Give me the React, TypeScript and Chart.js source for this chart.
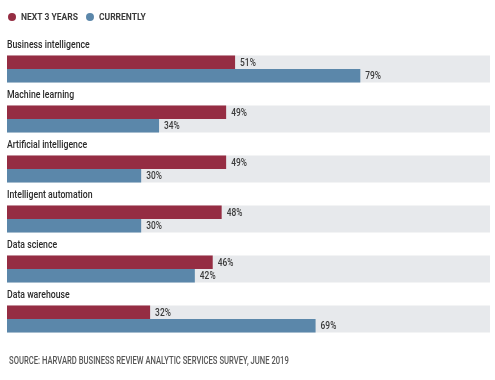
import { useEffect, useRef } from "react";
import { Chart, registerables } from "chart.js";

Chart.register(...registerables);

const categories = [
  "Business intelligence",
  "Machine learning",
  "Artificial intelligence",
  "Intelligent automation",
  "Data science",
  "Data warehouse",
];
const seriesNames = ["NEXT 3 YEARS", "CURRENTLY"];
const next3Years = [51, 49, 49, 48, 46, 32];
const currently = [79, 34, 30, 30, 42, 69];
const sourceText = "SOURCE: HARVARD BUSINESS REVIEW ANALYTIC SERVICES SURVEY, JUNE 2019";
const axisMax = 108;

const RED = "#952D43";
const BLUE = "#5B87AA";
const TRACK = "#E7E9EC";
const FAMILY = "Roboto, 'Liberation Sans', sans-serif";

function drawText(
  ctx: CanvasRenderingContext2D,
  text: string,
  x: number,
  y: number,
  font: string,
  color: string,
  k: number
) {
  ctx.save();
  ctx.font = font;
  ctx.fillStyle = color;
  ctx.textBaseline = "alphabetic";
  ctx.textAlign = "left";
  ctx.translate(x, y);
  ctx.scale(k, 1);
  ctx.fillText(text, 0, 0);
  ctx.restore();
}

const decorPlugin = {
  id: "decor",
  beforeDatasetsDraw(chart: any) {
    const { ctx, chartArea } = chart;
    const m0 = chart.getDatasetMeta(0);
    const m1 = chart.getDatasetMeta(1);
    ctx.save();
    ctx.fillStyle = TRACK;
    m0.data.forEach((el: any, i: number) => {
      const b1 = m1.data[i];
      const top = el.y - el.height / 2;
      const bottom = b1.y + b1.height / 2;
      ctx.fillRect(chartArea.left, top, chartArea.right - chartArea.left, bottom - top);
    });
    ctx.restore();
  },
  afterDatasetsDraw(chart: any) {
    const { ctx, chartArea } = chart;
    const m0 = chart.getDatasetMeta(0);
    m0.data.forEach((el: any, i: number) => {
      const top = el.y - el.height / 2;
      drawText(ctx, categories[i], chartArea.left, top - 8, `500 10.5px ${FAMILY}`, "#2a2a2a", 0.83);
    });
    [0, 1].forEach((d) => {
      const meta = chart.getDatasetMeta(d);
      const vals = chart.data.datasets[d].data as number[];
      meta.data.forEach((el: any, i: number) => {
        drawText(ctx, `${vals[i]}%`, el.x + 5, el.y + 3.7, `500 10.5px ${FAMILY}`, "#3a3a3a", 0.8);
      });
    });
  },
  afterDraw(chart: any) {
    const { ctx } = chart;
    let x = 8;
    const cy = 17;
    chart.data.datasets.forEach((ds: any) => {
      ctx.save();
      ctx.fillStyle = ds.backgroundColor;
      ctx.beginPath();
      ctx.arc(x + 4, cy, 4, 0, Math.PI * 2);
      ctx.fill();
      ctx.font = `bold 8.5px ${FAMILY}`;
      const w = ctx.measureText(ds.label).width;
      ctx.restore();
      drawText(ctx, ds.label, x + 13, cy + 3.3, `bold 8.5px ${FAMILY}`, "#3a3a3a", 1);
      x += 13 + w + 8;
    });
    drawText(ctx, sourceText, 9, 364, `500 10px ${FAMILY}`, "#555555", 0.765);
  },
};

export default function App() {
  const ref = useRef<HTMLCanvasElement | null>(null);
  useEffect(() => {
    if (!ref.current) return;
    const chart = new Chart(ref.current, {
      type: "bar",
      data: {
        labels: categories,
        datasets: [
          { label: seriesNames[0], data: next3Years, backgroundColor: RED },
          { label: seriesNames[1], data: currently, backgroundColor: BLUE },
        ],
      },
      options: {
        indexAxis: "y",
        responsive: false,
        animation: false,
        devicePixelRatio: 1,
        layout: { padding: { left: 7, right: 5, top: 44, bottom: 36 } },
        datasets: { bar: { categoryPercentage: 0.54, barPercentage: 1 } },
        scales: {
          x: { min: 0, max: axisMax, display: false },
          y: { display: false },
        },
        plugins: {
          legend: { display: false },
          tooltip: { enabled: false },
          title: { display: false },
        },
      },
      plugins: [decorPlugin],
    });
    return () => chart.destroy();
  }, []);
  return (
    <div style={{ position: "fixed", left: 0, top: 0, width: 495, height: 380, background: "#fff" }}>
      <canvas ref={ref} width={495} height={380} />
    </div>
  );
}
